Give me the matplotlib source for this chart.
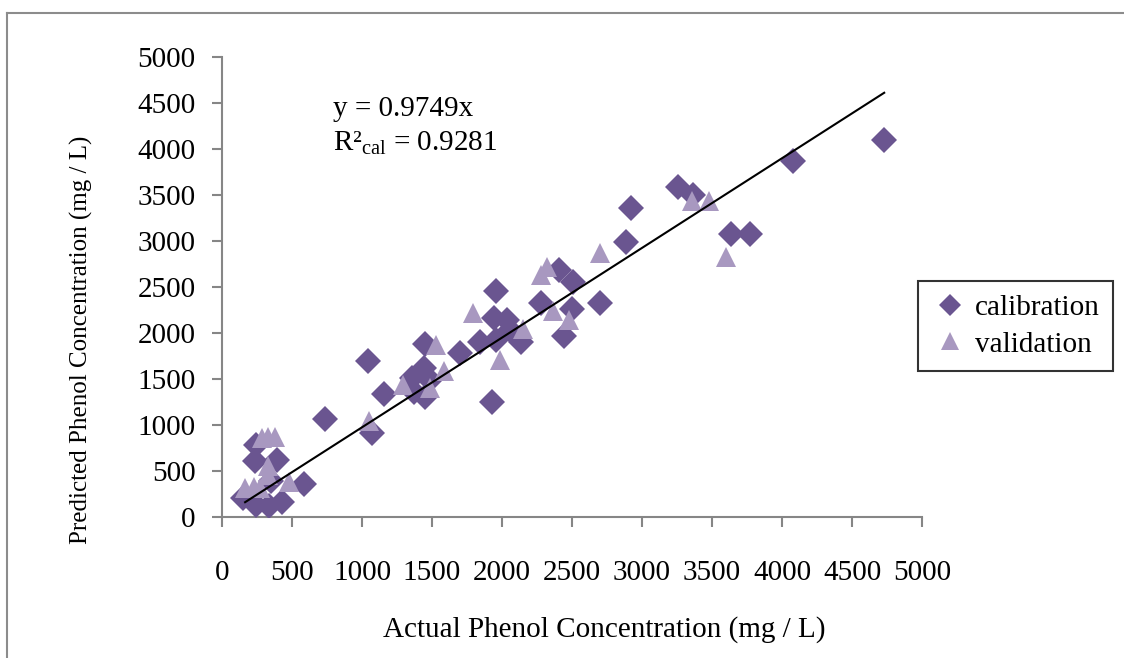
import numpy as np
import matplotlib
matplotlib.use('Agg')
import matplotlib.pyplot as plt
from matplotlib.lines import Line2D

plt.rcParams['font.family'] = ['Liberation Serif', 'DejaVu Serif']
plt.rcParams['mathtext.fontset'] = 'custom'
plt.rcParams['mathtext.rm'] = 'Liberation Serif'

# calibration set (actual, predicted)
cal_x = [4730, 4080, 3260, 3365, 2920, 2885, 3635, 3770, 2405, 2510,
         2280, 2700, 2500, 2440, 1960, 1945, 2035, 2055, 1960, 1845,
         2135, 1700, 1925, 1450, 1440, 1485, 1355, 1370, 1450, 1155,
         1045, 1070, 735, 585, 245, 235, 395, 150, 240, 335,
         430, 350]
cal_y = [4100, 3865, 3585, 3495, 3360, 2985, 3075, 3080, 2690, 2550,
         2330, 2330, 2265, 1970, 2460, 2160, 2140, 2035, 1925, 1905,
         1900, 1780, 1245, 1880, 1625, 1490, 1515, 1360, 1305, 1335,
         1695, 910, 1070, 360, 780, 610, 625, 205, 130, 125,
         160, 390]

# validation set
val_x = [3360, 3475, 2700, 3600, 2280, 2320, 2365, 2480, 2150, 1985,
         1795, 1530, 1585, 1295, 1485, 1050, 285, 330, 375, 330,
         330, 475, 165, 225, 270]
val_y = [3430, 3430, 2865, 2830, 2630, 2715, 2240, 2140, 2040, 1705,
         2220, 1875, 1590, 1435, 1400, 1040, 860, 865, 870, 555,
         460, 380, 310, 330, 310]

slope = 0.9749
eq_text = 'y = 0.9749x'
r2_text = 'R²$_{\\mathregular{cal}}$ = 0.9281'

W, H = 1124, 658
fig = plt.figure(figsize=(W / 100, H / 100), dpi=100)
ax = fig.add_axes([222 / W, 1 - 517 / H, 700 / W, 460 / H])

cal_color = '#6a5590'
val_color = '#a898c0'

ax.plot(cal_x, cal_y, 'D', color=cal_color, markersize=13, markeredgewidth=0,
        label='calibration', zorder=3)
ax.plot(val_x, val_y, '^', color=val_color, markersize=14.5, markeredgewidth=0,
        label='validation', zorder=3)

all_x = np.array(cal_x + val_x)
line_x = np.array([all_x.min() + 15, all_x.max()])
ax.plot(line_x, slope * line_x, color='black', linewidth=1.5, zorder=4)

ax.set_xlim(0, 5000)
ax.set_ylim(0, 5000)
ax.set_xticks(np.arange(0, 5001, 500))
ax.set_yticks(np.arange(0, 5001, 500))

for s in ['top', 'right']:
    ax.spines[s].set_visible(False)
for s in ['left', 'bottom']:
    ax.spines[s].set_color('#868686')
    ax.spines[s].set_linewidth(1.5)
ax.tick_params(axis='both', direction='out', length=7, width=1.5, color='#868686',
               labelsize=21)
ax.tick_params(axis='x', pad=24)
ax.tick_params(axis='y', pad=12)

ax.text(793, 4440, eq_text, fontsize=21, va='center', ha='left')
ax.text(793, 4060, r2_text, fontsize=21, va='center', ha='left')

fig.text(604 / W, 1 - 630 / H, 'Actual Phenol Concentration (mg / L)',
         fontsize=21, ha='center', va='center')
fig.text(81 / W, 1 - 340 / H, 'Predicted Phenol Concentration (mg / L)',
         fontsize=18, ha='center', va='center', rotation=90)

leg = ax.legend(loc='center left', bbox_to_anchor=(918 / W, 1 - 326 / H),
                bbox_transform=fig.transFigure, fontsize=21, frameon=True,
                fancybox=False, edgecolor='black', handlelength=1.3,
                handletextpad=0.2, borderpad=0.45, labelspacing=0.35,
                borderaxespad=0)
leg.get_frame().set_linewidth(1.5)
leg.legend_handles[0].set_markersize(11)
leg.legend_handles[1].set_markersize(13)

# outer chart border
fig.add_artist(Line2D([7 / W, 1], [1 - 12.5 / H, 1 - 12.5 / H],
                      transform=fig.transFigure, color='#8c8c8c', linewidth=1.5))
fig.add_artist(Line2D([7 / W, 7 / W], [0, 1 - 12.5 / H],
                      transform=fig.transFigure, color='#8c8c8c', linewidth=1.5))

fig.savefig('out.png', dpi=100)
